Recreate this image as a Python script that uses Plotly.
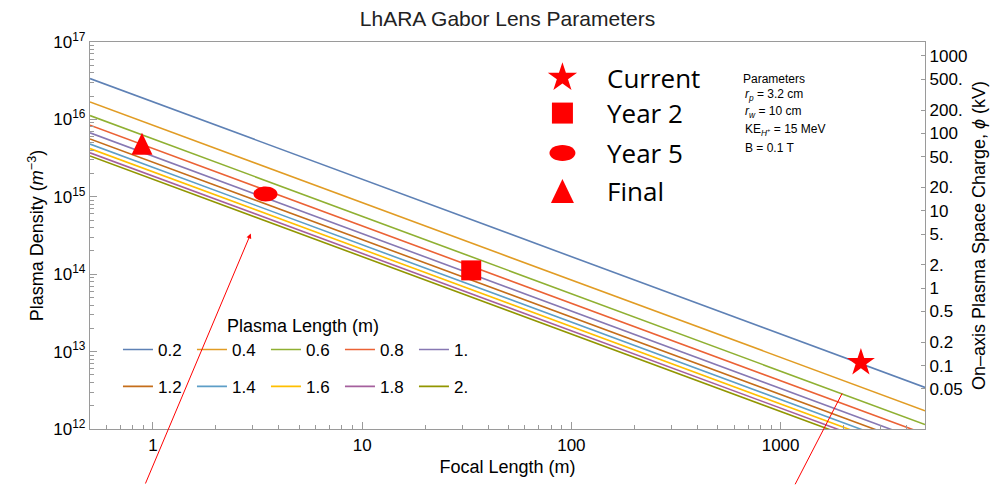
import math
import plotly.graph_objects as go

# ---------------- data ----------------
plasma_lengths = ["0.2", "0.4", "0.6", "0.8", "1.", "1.2", "1.4", "1.6", "1.8", "2."]
focal_ends = [0.5, 4900]
density_start = [3.37e16, 1.68e16, 1.12e16, 8.4e15, 6.7e15, 5.6e15, 4.8e15, 4.2e15, 3.7e15, 3.37e15]
density_end = [3.44e12, 1.72e12, 1.14e12, 8.6e11, 6.8e11, 5.7e11, 4.9e11, 4.3e11, 3.8e11, 3.44e11]
line_colors = ["#5E81B5", "#E19C24", "#8FB032", "#EB6235", "#8778B3",
               "#C56E1A", "#5D9EC7", "#FFBF00", "#A5609D", "#929600"]

milestones = ["Current", "Year 2", "Year 5", "Final"]
milestone_focal = [2420, 33.2, 3.45, 0.886]
milestone_density = [7.2e12, 1.12e14, 1.09e15, 4.85e15]

x_ticks = [1, 10, 100, 1000]
x_ticktext = ["1", "10", "100", "1000"]
y_ticks = [1e12, 1e13, 1e14, 1e15, 1e16, 1e17]
y_ticktext = ["10<sup>12</sup>", "10<sup>13</sup>", "10<sup>14</sup>",
              "10<sup>15</sup>", "10<sup>16</sup>", "10<sup>17</sup>"]
phi_ticks = [1000, 500, 200, 100, 50, 20, 10, 5, 2, 1, 0.5, 0.2, 0.1, 0.05]
phi_ticktext = ["1000", "500.", "200.", "100", "50.", "20.", "10", "5.",
                "2.", "1", "0.5", "0.2", "0.1", "0.05"]
density_per_kV = 6.6e13  # right-axis scale: density (m^-3) per kV of space charge

params_lines = ["Parameters", "<i>r</i><sub><i>p</i></sub> = 3.2 cm", "<i>r</i><sub><i>w</i></sub> = 10 cm",
                "KE<sub><i>H</i><sup>+</sup></sub> = 15 MeV", "B = 0.1 T"]

# ---------------- layout geometry ----------------
W, H = 998, 485
L_M, R_M, T_M, B_M = 90, 72, 42, 51
PW, PH = W - L_M - R_M, H - T_M - B_M


def px_x(px):
    return (px - L_M) / PW


def px_y(py):
    return (H - B_M - py) / PH


def ellipse_path(rx, ry):
    k = 0.5523
    return (f"M {-rx},0 C {-rx},{-k*ry} {-k*rx},{-ry} 0,{-ry} "
            f"C {k*rx},{-ry} {rx},{-k*ry} {rx},0 "
            f"C {rx},{k*ry} {k*rx},{ry} 0,{ry} "
            f"C {-k*rx},{ry} {-rx},{k*ry} {-rx},0 Z")


def triangle_path(hw, hh):
    return f"M {-hw},{-hh} L {hw},{-hh} L 0,{hh} Z"


FONT = "Liberation Sans, Arial, sans-serif"
AX_COLOR = "#9a9a9a"

fig = go.Figure()

for i, lab in enumerate(plasma_lengths):
    fig.add_trace(go.Scatter(
        x=focal_ends, y=[density_start[i], density_end[i]], mode="lines",
        name=lab, line=dict(color=line_colors[i], width=1.6),
        legend="legend" if i < 5 else "legend2", hoverinfo="skip"))

# milestone markers (ellipse and triangle are drawn as anchored shapes below)
sym = {"Current": ("star", 21), "Year 2": ("square", 20)}
for k, name in enumerate(milestones):
    if name in sym:
        fig.add_trace(go.Scatter(
            x=[milestone_focal[k]], y=[milestone_density[k]], mode="markers",
            marker=dict(symbol=sym[name][0], size=sym[name][1], color="red", line=dict(width=0)),
            showlegend=False, hoverinfo="skip"))

# dummy trace so that right axis is drawn
fig.add_trace(go.Scatter(x=[None], y=[None], yaxis="y2", showlegend=False, hoverinfo="skip"))

# marker key (top right), positioned in plot-area fractions
key_x = px_x(563)
key_rows = [px_y(78), px_y(114), px_y(154), px_y(193)]
key_syms = [("star", 22), ("square", 21)]
for k, s in enumerate(key_syms):
    fig.add_trace(go.Scatter(
        x=[key_x], y=[key_rows[k]], xaxis="x2", yaxis="y3", mode="markers",
        marker=dict(symbol=s[0], size=s[1], color="red", line=dict(width=0)),
        showlegend=False, hoverinfo="skip"))

shapes = [
    # Year 5 ellipse on the data
    dict(type="path", xref="x", yref="y", xsizemode="pixel", ysizemode="pixel",
         xanchor=milestone_focal[2], yanchor=milestone_density[2],
         path=ellipse_path(12, 7.5), fillcolor="red", line=dict(width=0)),
    # Final triangle on the data
    dict(type="path", xref="x", yref="y", xsizemode="pixel", ysizemode="pixel",
         xanchor=milestone_focal[3], yanchor=milestone_density[3],
         path=triangle_path(10.5, 11), fillcolor="red", line=dict(width=0)),
    # ellipse in the key
    dict(type="path", xref="paper", yref="paper", xsizemode="pixel", ysizemode="pixel",
         xanchor=key_x, yanchor=px_y(154.5), path=ellipse_path(13, 8),
         fillcolor="red", line=dict(width=0)),
    # triangle in the key
    dict(type="path", xref="paper", yref="paper", xsizemode="pixel", ysizemode="pixel",
         xanchor=key_x, yanchor=px_y(193), path=triangle_path(11.5, 12),
         fillcolor="red", line=dict(width=0)),
    # right pointer line
    dict(type="line", xref="paper", yref="paper", x0=px_x(796), y0=px_y(490),
         x1=px_x(843), y1=px_y(398), line=dict(color="red", width=1)),
]

annotations = []
for k, name in enumerate(milestones):
    annotations.append(dict(text=name, xref="paper", yref="paper", x=px_x(606), y=key_rows[k],
                            xanchor="left", yanchor="middle", showarrow=False,
                            font=dict(family="Open Sans, sans-serif", size=26, color="black")))
param_y = [79, 96, 113, 131, 149]
for k, t in enumerate(params_lines):
    annotations.append(dict(text=t, xref="paper", yref="paper", x=px_x(742 if k == 0 else 744), y=px_y(param_y[k]),
                            xanchor="left", yanchor="middle", showarrow=False,
                            font=dict(family=FONT, size=12, color="black")))
# left pointer arrow
annotations.append(dict(text="", xref="paper", yref="paper", x=px_x(251), y=px_y(236),
                        ax=145 - 251, ay=490 - 236, showarrow=True, arrowhead=2, arrowsize=1,
                        arrowwidth=1, arrowcolor="red", standoff=0))


def minor_vals(lo, hi):
    out = []
    for e in range(lo, hi):
        for m in range(2, 10):
            out.append(m * 10 ** e)
    return out


x_minor = [v for v in minor_vals(-1, 4) if 0.5 <= v <= 4900]
y_minor = minor_vals(12, 17)

fig.update_layout(
    width=W, height=H,
    margin=dict(l=L_M, r=R_M, t=T_M, b=B_M),
    paper_bgcolor="white", plot_bgcolor="white",
    font=dict(family=FONT, size=17, color="black"),
    title=dict(text="LhARA Gabor Lens Parameters", x=0.5, xref="paper", xanchor="center",
               y=1 - 19 / H, yref="container", yanchor="middle",
               font=dict(family=FONT, size=21, color="#222")),
    xaxis=dict(type="log", range=[math.log10(0.5), math.log10(4900)],
               tickmode="array", tickvals=x_ticks, ticktext=x_ticktext,
               ticks="inside", ticklen=7, tickcolor=AX_COLOR, tickwidth=1,
               showline=True, linecolor=AX_COLOR, linewidth=1.3, mirror=True,
               showgrid=False, zeroline=False,
               minor=dict(tickmode="array", tickvals=x_minor, ticks="inside", ticklen=4,
                          tickcolor=AX_COLOR, showgrid=False),
               tickfont=dict(size=17),
               title=dict(text="Focal Length (m)", font=dict(size=18), standoff=6)),
    yaxis=dict(type="log", range=[12, 17],
               tickmode="array", tickvals=y_ticks, ticktext=y_ticktext,
               ticks="inside", ticklen=7, tickcolor=AX_COLOR, tickwidth=1,
               showline=True, linecolor=AX_COLOR, linewidth=1.3,
               showgrid=False, zeroline=False,
               minor=dict(tickmode="array", tickvals=y_minor, ticks="inside", ticklen=4,
                          tickcolor=AX_COLOR, showgrid=False),
               tickfont=dict(size=17),
               title=dict(text="Plasma Density (<i>m</i><sup>−3</sup>)", font=dict(size=18), standoff=4)),
    yaxis2=dict(type="log", overlaying="y", side="right",
                range=[math.log10(1e12 / density_per_kV), math.log10(1e17 / density_per_kV)],
                tickmode="array", tickvals=phi_ticks, ticktext=phi_ticktext,
                ticks="inside", ticklen=4, tickcolor=AX_COLOR,
                showline=True, linecolor=AX_COLOR, linewidth=1.3,
                showgrid=False, zeroline=False, tickfont=dict(size=17),
                title=dict(text="On–axis Plasma Space Charge, <i>ϕ</i> (kV)", font=dict(size=18), standoff=6)),
    xaxis2=dict(overlaying="x", range=[0, 1], visible=False),
    yaxis3=dict(overlaying="y", range=[0, 1], visible=False),
    legend=dict(orientation="h", x=px_x(118), xanchor="left", y=px_y(312), yanchor="top",
                title=dict(text="Plasma Length (m)", side="top center", font=dict(size=18)),
                font=dict(size=17), entrywidth=29, entrywidthmode="pixels",
                bgcolor="rgba(0,0,0,0)", itemwidth=30),
    legend2=dict(orientation="h", x=px_x(118), xanchor="left", y=px_y(373), yanchor="top",
                 font=dict(size=17), entrywidth=29, entrywidthmode="pixels",
                 bgcolor="rgba(0,0,0,0)", itemwidth=30),
    shapes=shapes,
    annotations=annotations,
    showlegend=True,
)

fig.write_html("out.html")
